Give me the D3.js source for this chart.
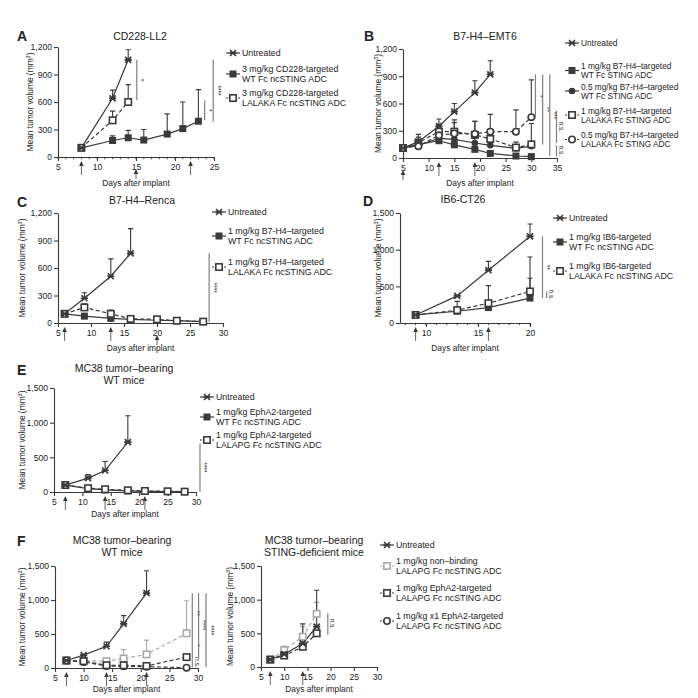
<!DOCTYPE html>
<html>
<head>
<meta charset="utf-8">
<script src="https://cdn.jsdelivr.net/npm/d3@7"></script>
<style>
  body { margin: 0; background: #fff; }
  svg text { font-family: "Liberation Sans", Arial, Helvetica, sans-serif; fill: #222; }
</style>
</head>
<body>
<svg id="fig" width="698" height="698"></svg>
<script>
// ---- data (err = upper SD bar) ----
// A  CD228-LL2
const aDaysU = [8, 12, 14], aUntreated = [100, 640, 1060], aUntreatedErr = [0, 90, 110];
const aDaysL = [8, 12, 14], aLalaka = [100, 400, 600], aLalakaErr = [0, 100, 190];
const aDaysW = [8, 12, 14, 16, 19, 21, 23];
const aWt = [100, 180, 210, 185, 250, 310, 390], aWtErr = [0, 50, 80, 115, 220, 290, 345];
// B  B7-H4-EMT6
const bDaysU = [5, 8, 12, 15, 19, 22];
const bUntreated = [110, 180, 350, 510, 720, 920], bUntreatedErr = [0, 80, 80, 90, 130, 150];
const bDays = [5, 8, 12, 15, 19, 22, 27, 30];
const bWt1 = [110, 150, 190, 145, 95, 50, 22, 15], bWt1Err = [0, 20, 30, 30, 25, 15, 10, 5];
const bWt05 = [110, 140, 215, 205, 165, 140, 105, 130], bWt05Err = [0, 20, 40, 60, 50, 40, 30, 50];
const bLal1 = [110, 170, 290, 290, 255, 210, 115, 150], bLal1Err = [0, 60, 80, 130, 150, 110, 60, 230];
const bLal05 = [110, 130, 250, 270, 265, 290, 290, 450], bLal05Err = [0, 40, 60, 120, 140, 190, 240, 410];
// C  B7-H4-Renca
const cDaysU = [6, 9, 13, 16], cUntreated = [100, 270, 510, 760], cUntreatedErr = [0, 60, 190, 270];
const cDays = [6, 9, 13, 16, 20, 23, 27];
const cWt = [100, 75, 50, 40, 30, 25, 15], cWtErr = [0, 0, 0, 0, 0, 0, 0];
const cLal = [100, 170, 100, 45, 40, 25, 15], cLalErr = [0, 40, 40, 0, 0, 0, 0];
// D  IB6-CT26
const dDays = [9, 13, 16, 20];
const dUntreated = [110, 370, 720, 1180], dUntreatedErr = [0, 0, 120, 170];
const dWt = [110, 160, 210, 340], dWtErr = [0, 0, 0, 270];
const dLal = [110, 175, 270, 430], dLalErr = [0, 120, 240, 470];
// E  MC38 WT mice
const eDaysU = [7, 11, 14, 18], eUntreated = [100, 200, 310, 720], eUntreatedErr = [0, 50, 130, 380];
const eDays = [7, 11, 14, 18, 21, 25, 28];
const eWt = [100, 50, 30, 15, 10, 5, 5], eWtErr = [0, 0, 0, 0, 0, 0, 0];
const eLal = [100, 55, 40, 25, 15, 10, 5], eLalErr = [0, 0, 0, 0, 0, 0, 0];
// F  MC38 WT mice
const fDaysU = [7, 10, 14, 17, 21], fUntreated = [110, 190, 320, 650, 1100], fUntreatedErr = [0, 0, 60, 120, 330];
const fDays = [7, 10, 14, 17, 21, 28];
const fNonbind = [110, 110, 100, 140, 200, 510], fNonbindErr = [0, 0, 0, 130, 210, 480];
const fEph = [110, 100, 40, 40, 30, 160], fEphErr = [0, 0, 0, 0, 0, 0];
const fX1 = [110, 90, 30, 25, 20, 5], fX1Err = [0, 0, 0, 0, 0, 0];
// F  MC38 STING-deficient mice
const gDays = [7, 10, 14, 17];
const gUntreated = [110, 190, 350, 600], gUntreatedErr = [0, 0, 290, 540];
const gNonbind = [110, 250, 450, 790], gNonbindErr = [0, 60, 150, 170];
const gEph = [110, 170, 300, 500], gEphErr = [0, 0, 0, 0];

const yTicks1200 = [0, 300, 600, 900, 1200];
const yTicks1500 = [0, 500, 1000, 1500];

const svg = d3.select("#fig");
const DARK = "#3a3a3a", LIGHT = "#a9a9a9", SIGC = "#808080";

function marker(g, type, cx, cy, color) {
  const m = g.append("g").attr("transform", `translate(${cx},${cy})`);
  if (type === "cross") {
    m.append("path").attr("d", "M-3,-3L3,3M-3,3L3,-3M-3.6,0L3.6,0")
      .attr("stroke", color).attr("stroke-width", 1.7).attr("fill", "none");
  } else if (type === "square") {
    m.append("rect").attr("x", -3.5).attr("y", -3.5).attr("width", 7).attr("height", 7).attr("fill", color);
  } else if (type === "osquare") {
    m.append("rect").attr("x", -3.2).attr("y", -3.2).attr("width", 6.4).attr("height", 6.4)
      .attr("fill", "#fff").attr("stroke", color).attr("stroke-width", 1.6);
  } else if (type === "circle") {
    m.append("circle").attr("r", 3.3).attr("fill", color);
  } else if (type === "ocircle") {
    m.append("circle").attr("r", 3.2).attr("fill", "#fff").attr("stroke", color).attr("stroke-width", 1.6);
  }
}

function panel(p) {
  const x = d3.scaleLinear().domain(p.xd).range(p.xr);
  const y = d3.scaleLinear().domain(p.yd).range(p.yr);
  const g = svg.append("g");
  const y0 = p.yr[0];

  // axes
  const xa = g.append("g").attr("transform", `translate(0,${y0})`)
    .call(d3.axisBottom(x).tickValues(p.xt).tickSize(4).tickSizeOuter(0).tickPadding(3));
  const ya = g.append("g").attr("transform", `translate(${p.xr[0]},0)`)
    .call(d3.axisLeft(y).tickValues(p.yt).tickFormat(d3.format(",")).tickSize(4).tickSizeOuter(0).tickPadding(2));
  [xa, ya].forEach(a => {
    a.select(".domain").attr("stroke", DARK).attr("stroke-width", 1.1);
    a.selectAll(".tick line").attr("stroke", DARK).attr("stroke-width", 1.1);
    a.selectAll(".tick text").attr("font-size", 8.6).attr("fill", "#222")
      .attr("font-family", "Liberation Sans, Arial, sans-serif");
  });
  if (p.minor) {
    g.append("g").selectAll("line").data(d3.range(Math.ceil(p.xd[0]), p.xd[1] + 1))
      .join("line").attr("x1", d => x(d)).attr("x2", d => x(d))
      .attr("y1", y0).attr("y2", y0 + 2.2).attr("stroke", DARK).attr("stroke-width", 1);
  }

  // dosing arrows
  p.arrows.forEach(a => {
    const top = y0 + (a.low ? 12 : 4);
    const ax = x(a.d);
    g.append("line").attr("x1", ax).attr("x2", ax).attr("y1", top + 3).attr("y2", top + (a.low ? 10 : 14))
      .attr("stroke", "#666").attr("stroke-width", 1);
    g.append("path").attr("d", `M${ax},${top}L${ax - 2.3},${top + 5}L${ax + 2.3},${top + 5}Z`).attr("fill", DARK);
  });

  // series
  const line = d3.line().x(d => x(d.d)).y(d => y(d.v));
  p.series.forEach(s => {
    const pts = s.d.map((d, i) => ({ d: d, v: s.v[i], e: s.e[i] }));
    g.append("path").datum(pts).attr("d", line).attr("fill", "none")
      .attr("stroke", s.c).attr("stroke-width", 1.2).attr("stroke-dasharray", s.dash ? "4,2.5" : null);
    pts.filter(q => q.e > 0).forEach(q => {
      g.append("path").attr("d", `M${x(q.d)},${y(q.v)}V${y(q.v + q.e)}M${x(q.d) - 2.6},${y(q.v + q.e)}H${x(q.d) + 2.6}`)
        .attr("stroke", s.c).attr("stroke-width", 1.1).attr("fill", "none");
    });
  });
  p.series.forEach(s => {
    s.d.forEach((d, i) => marker(g, s.m, x(d), y(s.v[i]), s.c));
  });

  // significance bars
  p.sig.forEach(b => {
    const sx = x(b.x);
    g.append("line").attr("x1", sx).attr("x2", sx).attr("y1", y(b.from)).attr("y2", y(b.to))
      .attr("stroke", SIGC).attr("stroke-width", 1.2);
    const my = (y(b.from) + y(b.to)) / 2;
    g.append("text").attr("transform", `translate(${sx + 2.5},${my}) rotate(90)`)
      .attr("text-anchor", "middle").attr("font-size", 6.5).text(b.t);
  });

  // labels
  g.append("text").attr("x", p.letter[1]).attr("y", p.letter[2]).attr("font-size", 14)
    .attr("font-weight", "bold").text(p.letter[0]);
  p.title.forEach((t, i) => {
    g.append("text").attr("x", p.titleX).attr("y", p.titleY + i * 12).attr("text-anchor", "middle")
      .attr("font-size", 10.5).text(t);
  });
  g.append("text").attr("x", (p.xr[0] + p.xr[1]) / 2).attr("y", p.xlabY).attr("text-anchor", "middle")
    .attr("font-size", 8.4).text("Days after implant");
  const yl = g.append("text").attr("transform", `translate(${p.ylabX},${(p.yr[0] + p.yr[1]) / 2}) rotate(-90)`)
    .attr("text-anchor", "middle").attr("font-size", 8.4);
  yl.append("tspan").text("Mean tumor volume (mm");
  yl.append("tspan").attr("font-size", 5.5).attr("dy", -3).text("3");
  yl.append("tspan").attr("dy", 3).text(")");

  // legend
  if (p.leg) {
    const fs = p.leg.fs || 8.8, lh = p.leg.lh || 10;
    p.leg.items.forEach((it, i) => {
      const ly = p.leg.ys[i];
      const mx = p.leg.x;
      g.append("line").attr("x1", mx - 7).attr("x2", mx + 7).attr("y1", ly).attr("y2", ly)
        .attr("stroke", it.c).attr("stroke-width", 1.2).attr("stroke-dasharray", it.dash ? "2,2" : null);
      marker(g, it.m, mx, ly, it.c);
      const t = it.t;
      t.forEach((s, j) => {
        const by = t.length === 1 ? ly + 3 : ly + 3 - lh / 2 + j * lh;
        g.append("text").attr("x", mx + 9).attr("y", by).attr("font-size", fs).text(s);
      });
    });
  }
}

const U = { m: "cross", c: DARK };

// A
panel({
  letter: ["A", 17, 41], title: ["CD228-LL2"], titleX: 140, titleY: 40,
  xd: [5, 25], xr: [58, 214], yd: [0, 1200], yr: [157, 47], xt: [5, 10, 15, 20, 25], yt: yTicks1200, minor: true,
  xlabY: 186, ylabX: 33,
  arrows: [{ d: 8 }, { d: 15, low: true }, { d: 22 }],
  series: [
    { d: aDaysW, v: aWt, e: aWtErr, m: "square", c: DARK },
    { d: aDaysL, v: aLalaka, e: aLalakaErr, m: "osquare", c: DARK, dash: true },
    { d: aDaysU, v: aUntreated, e: aUntreatedErr, ...U }
  ],
  sig: [{ x: 15.1, from: 1060, to: 620, t: "*" }, { x: 23.8, from: 620, to: 400, t: "*" },
        { x: 24.9, from: 1065, to: 385, t: "****" }],
  leg: { x: 233, ys: [53, 74, 98], items: [
    { ...U, t: ["Untreated"] },
    { m: "square", c: DARK, t: ["3 mg/kg CD228-targeted", "WT Fc ncSTING ADC"] },
    { m: "osquare", c: DARK, dash: true, t: ["3 mg/kg CD228-targeted", "LALAKA Fc ncSTING ADC"] }] }
});

// B
panel({
  letter: ["B", 364, 41], title: ["B7-H4\u2013EMT6"], titleX: 485, titleY: 40,
  xd: [5, 35], xr: [403, 557], yd: [0, 1200], yr: [158, 49], xt: [5, 10, 15, 20, 25, 30, 35], yt: yTicks1200, minor: false,
  xlabY: 186, ylabX: 381,
  arrows: [{ d: 5, low: true }, { d: 12 }, { d: 19 }],
  series: [
    { d: bDays, v: bWt1, e: bWt1Err, m: "square", c: DARK },
    { d: bDays, v: bWt05, e: bWt05Err, m: "circle", c: DARK },
    { d: bDays, v: bLal1, e: bLal1Err, m: "osquare", c: DARK, dash: true },
    { d: bDays, v: bLal05, e: bLal05Err, m: "ocircle", c: DARK, dash: true },
    { d: bDaysU, v: bUntreated, e: bUntreatedErr, ...U }
  ],
  sig: [{ x: 30.8, from: 920, to: 440, t: "*" }, { x: 32.2, from: 920, to: 150, t: "**" },
        { x: 33.6, from: 920, to: 20, t: "***" }, { x: 34.9, from: 520, to: 165, t: "n.s." },
        { x: 34.9, from: 140, to: 20, t: "n.s." }],
  leg: { x: 572, fs: 8.3, lh: 9, ys: [43, 70.5, 91, 115, 139.5], items: [
    { ...U, t: ["Untreated"] },
    { m: "square", c: DARK, t: ["1 mg/kg B7-H4\u2013targeted", "WT Fc STING ADC"] },
    { m: "circle", c: DARK, t: ["0.5 mg/kg B7-H4\u2013targeted", "WT Fc STING ADC"] },
    { m: "osquare", c: DARK, dash: true, t: ["1 mg/kg B7-H4\u2013targeted", "LALAKA Fc STING ADC"] },
    { m: "ocircle", c: DARK, dash: true, t: ["0.5 mg/kg B7-H4\u2013targeted", "LALAKA Fc STING ADC"] }] }
});

// C
panel({
  letter: ["C", 17, 207], title: ["B7-H4\u2013Renca"], titleX: 142, titleY: 204,
  xd: [5, 30], xr: [58, 223], yd: [0, 1200], yr: [323, 213], xt: [5, 10, 15, 20, 25, 30], yt: yTicks1200, minor: false,
  xlabY: 351, ylabX: 25,
  arrows: [{ d: 6 }, { d: 13 }, { d: 20, low: true }],
  series: [
    { d: cDays, v: cWt, e: cWtErr, m: "square", c: DARK },
    { d: cDays, v: cLal, e: cLalErr, m: "osquare", c: DARK, dash: true },
    { d: cDaysU, v: cUntreated, e: cUntreatedErr, ...U }
  ],
  sig: [{ x: 27.9, from: 760, to: 10, t: "****" }],
  leg: { x: 219, ys: [212, 236, 267], items: [
    { ...U, t: ["Untreated"] },
    { m: "square", c: DARK, t: ["1 mg/kg B7-H4\u2013targeted", "WT Fc ncSTING ADC"] },
    { m: "osquare", c: DARK, dash: true, t: ["1 mg/kg B7-H4\u2013targeted", "LALAKA Fc ncSTING ADC"] }] }
});

// D
panel({
  letter: ["D", 363, 206], title: ["IB6-CT26"], titleX: 463, titleY: 203,
  xd: [7.5, 20], xr: [400, 530], yd: [0, 1500], yr: [323, 213], xt: [10, 15, 20], yt: yTicks1500, minor: true,
  xlabY: 351, ylabX: 381,
  arrows: [{ d: 9 }, { d: 16 }],
  series: [
    { d: dDays, v: dWt, e: dWtErr, m: "square", c: DARK },
    { d: dDays, v: dLal, e: dLalErr, m: "osquare", c: DARK, dash: true },
    { d: dDays, v: dUntreated, e: dUntreatedErr, ...U }
  ],
  sig: [{ x: 21.2, from: 1180, to: 340, t: "**" }, { x: 21.6, from: 430, to: 340, t: "n.s." }],
  leg: { x: 560, ys: [218, 242, 271], items: [
    { ...U, t: ["Untreated"] },
    { m: "square", c: DARK, t: ["1 mg/kg IB6-targeted", "WT Fc ncSTING ADC"] },
    { m: "osquare", c: DARK, dash: true, t: ["1 mg/kg IB6-targeted", "LALAKA Fc ncSTING ADC"] }] }
});

// E
panel({
  letter: ["E", 17, 375], title: ["MC38 tumor\u2013bearing", "WT mice"], titleX: 124, titleY: 372,
  xd: [5, 30], xr: [54, 196], yd: [0, 1500], yr: [492, 388], xt: [5, 10, 15, 20, 25, 30], yt: yTicks1500, minor: false,
  xlabY: 517, ylabX: 25,
  arrows: [{ d: 7 }, { d: 14 }, { d: 21 }],
  series: [
    { d: eDays, v: eWt, e: eWtErr, m: "square", c: DARK },
    { d: eDays, v: eLal, e: eLalErr, m: "osquare", c: DARK, dash: true },
    { d: eDaysU, v: eUntreated, e: eUntreatedErr, ...U }
  ],
  sig: [{ x: 30.7, from: 700, to: 5, t: "****" }],
  leg: { x: 207, ys: [397, 417, 440], items: [
    { ...U, t: ["Untreated"] },
    { m: "square", c: DARK, t: ["1 mg/kg EphA2-targeted", "WT Fc ncSTING ADC"] },
    { m: "osquare", c: DARK, dash: true, t: ["1 mg/kg EphA2-targeted", "LALAPG Fc ncSTING ADC"] }] }
});

// F left
panel({
  letter: ["F", 17, 546], title: ["MC38 tumor\u2013bearing", "WT mice"], titleX: 122, titleY: 544,
  xd: [5, 30], xr: [55, 198], yd: [0, 1500], yr: [668, 566], xt: [5, 10, 15, 20, 25, 30], yt: yTicks1500, minor: false,
  xlabY: 692, ylabX: 25,
  arrows: [{ d: 7 }, { d: 14 }, { d: 21 }],
  series: [
    { d: fDays, v: fNonbind, e: fNonbindErr, m: "osquare", c: LIGHT, dash: true },
    { d: fDays, v: fX1, e: fX1Err, m: "ocircle", c: DARK, dash: true },
    { d: fDays, v: fEph, e: fEphErr, m: "osquare", c: DARK, dash: true },
    { d: fDaysU, v: fUntreated, e: fUntreatedErr, ...U }
  ],
  sig: [{ x: 29.0, from: 1100, to: 510, t: "**" }, { x: 29.0, from: 510, to: 160, t: "*" },
        { x: 29.0, from: 160, to: 10, t: "n.s." }, { x: 30.1, from: 1100, to: 160, t: "****" },
        { x: 31.4, from: 1100, to: 10, t: "****" }]
});

// F right
panel({
  letter: ["", 0, 0], title: ["MC38 tumor\u2013bearing", "STING-deficient mice"], titleX: 314, titleY: 544,
  xd: [5, 30], xr: [261, 377], yd: [0, 1500], yr: [667, 566], xt: [5, 10, 15, 20, 25, 30], yt: yTicks1500, minor: false,
  xlabY: 692, ylabX: 233,
  arrows: [{ d: 7 }, { d: 14 }],
  series: [
    { d: gDays, v: gNonbind, e: gNonbindErr, m: "osquare", c: LIGHT, dash: true },
    { d: gDays, v: gEph, e: gEphErr, m: "osquare", c: DARK, dash: true },
    { d: gDays, v: gUntreated, e: gUntreatedErr, ...U }
  ],
  sig: [{ x: 19.4, from: 800, to: 480, t: "n.s." }],
  leg: { x: 387, ys: [545, 566, 593, 621], items: [
    { ...U, t: ["Untreated"] },
    { m: "osquare", c: LIGHT, dash: true, t: ["1 mg/kg non\u2013binding", "LALAPG Fc ncSTING ADC"] },
    { m: "osquare", c: DARK, dash: true, t: ["1 mg/kg EphA2-targeted", "LALAPG Fc ncSTING ADC"] },
    { m: "ocircle", c: DARK, dash: true, t: ["1 mg/kg x1 EphA2-targeted", "LALAPG Fc ncSTING ADC"] }] }
});
</script>
</body>
</html>
